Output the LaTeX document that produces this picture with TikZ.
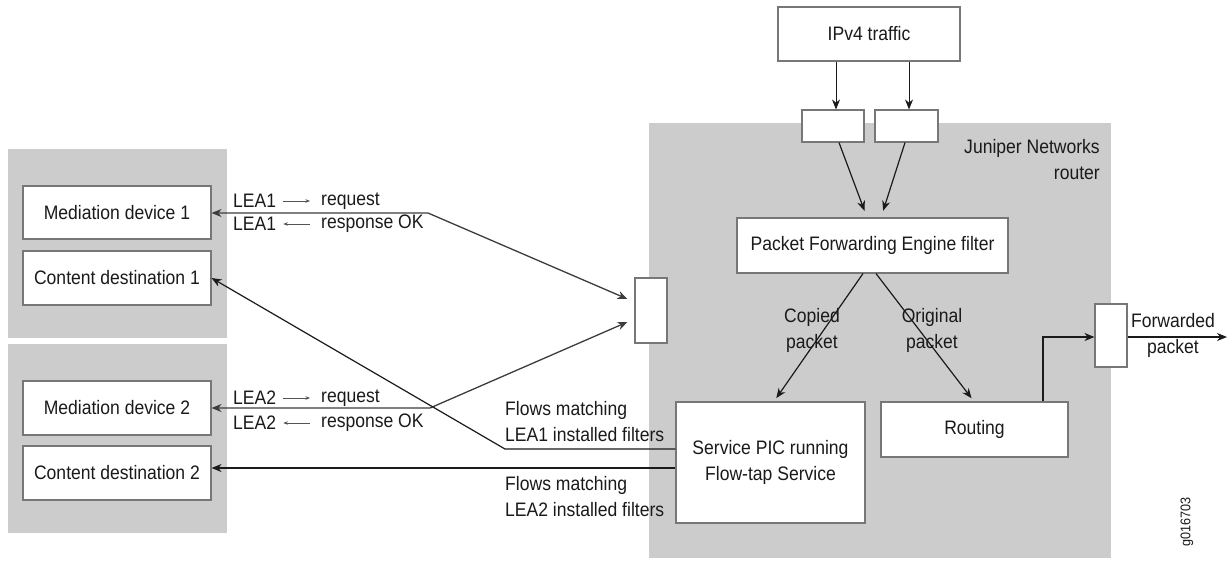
\documentclass[tikz,border=0pt]{standalone}
\usepackage{fontspec}
\setmainfont[FakeStretch=0.9]{Liberation Sans}
\usetikzlibrary{arrows.meta}
\definecolor{panel}{HTML}{CCCCCC}
\definecolor{edge}{HTML}{777777}
\definecolor{ink}{HTML}{1A1A1A}
\begin{document}
\begin{tikzpicture}[x=1pt,y=-1pt,
  font=\fontsize{19.5}{26}\selectfont,
  box/.style={draw=edge, line width=1.1pt, fill=white, inner sep=0pt, text=ink, align=center},
  lbl/.style={inner sep=0pt, text=ink},
  arr/.style={draw=ink, line width=1.2pt, -{Stealth[length=10pt,width=8pt]}},
  dblarr/.style={draw=ink!85, line width=1.3pt, {Stealth[length=10pt,width=8pt]}-{Stealth[length=10pt,width=8pt]}},
  tinyarr/.style={draw=ink!75, line width=0.7pt, -{Stealth[length=4.5pt,width=3.5pt]}}
]
\useasboundingbox (0,0) rectangle (1232,560);
\fill[white] (0,0) rectangle (1232,560);
% panels
\fill[panel] (8,149) rectangle (227,338);
\fill[panel] (8,344) rectangle (227,533);
\fill[panel] (649,123) rectangle (1111,558);

% left boxes
\node[box, minimum width=188pt, minimum height=53pt] (md1) at (117,212.5) {Mediation device 1};
\node[box, minimum width=188pt, minimum height=54pt] (cd1) at (117,278) {Content destination 1};
\node[box, minimum width=188pt, minimum height=54pt] (md2) at (117,408) {Mediation device 2};
\node[box, minimum width=188pt, minimum height=54pt] (cd2) at (117,473) {Content destination 2};

% router parts
\node[box, minimum width=32pt, minimum height=65pt] (portL) at (651,310.5) {};
\node[box, minimum width=182pt, minimum height=54pt] (ipv4) at (869,34) {IPv4 traffic};
\node[box, minimum width=62pt, minimum height=32pt] (inL) at (833,126) {};
\node[box, minimum width=63pt, minimum height=32pt] (inR) at (906.5,126) {};
\node[box, minimum width=271pt, minimum height=55pt] (pfe) at (872.5,245.5) {Packet Forwarding Engine filter};
\node[box, minimum width=189pt, minimum height=121pt] (pic) at (770.5,462.5) {Service PIC running\\Flow-tap Service};
\node[box, minimum width=187pt, minimum height=55pt] (routing) at (974.5,429.5) {Routing};
\node[box, minimum width=32pt, minimum height=63pt] (portR) at (1111,335.5) {};

\node[lbl, anchor=east, align=right] (jnr) at (1100,159.5) {Juniper Networks\\router};
\node[lbl, align=center] (cp) at (812,330) {Copied\\packet};
\node[lbl, align=center] (op) at (932,330) {Original\\packet};
\node[lbl, align=center] (fp) at (1173,335.5) {Forwarded\\packet};
\node[lbl, rotate=90, font=\fontsize{14}{16}\selectfont] (gid) at (1187,522) {g016703};

\node[lbl, anchor=west, align=left] (f1) at (505,421.5) {Flows matching\\LEA1 installed filters};
\node[lbl, anchor=west, align=left] (f2) at (505,496.5) {Flows matching\\LEA2 installed filters};

% LEA texts
\node[lbl, anchor=west] (a1) at (233,201) {LEA1};
\node[lbl, anchor=west] (b1) at (321,201) {request};
\node[lbl, anchor=west] (a2) at (233,224) {LEA1};
\node[lbl, anchor=west] (b2) at (321,224) {response OK};
\node[lbl, anchor=west] (a3) at (233,398) {LEA2};
\node[lbl, anchor=west] (b3) at (321,398) {request};
\node[lbl, anchor=west] (a4) at (233,423) {LEA2};
\node[lbl, anchor=west] (b4) at (321,423) {response OK};
\draw[tinyarr, shorten <=7pt, shorten >=11pt] (a1.east) -- (b1.west);
\draw[tinyarr, shorten <=11pt, shorten >=7pt] (b2.west) -- (a2.east);
\draw[tinyarr, shorten <=7pt, shorten >=11pt] (a3.east) -- (b3.west);
\draw[tinyarr, shorten <=11pt, shorten >=7pt] (b4.west) -- (a4.east);

% connectors
\coordinate (j1) at (428,213);
\coordinate (j2) at (430,408);
\coordinate (j3) at (505,449);
\coordinate (fwd) at (1227,335.5);
\draw[dblarr] (md1.east |- j1) -- (j1) -- ([xshift=-7pt,yshift=11.5pt]portL.west);
\draw[dblarr] (md2.east |- j2) -- (j2) -- ([xshift=-7pt,yshift=-11.5pt]portL.west);
\draw[arr] ([yshift=13.5pt]pic.west) -- (j3) -- (cd1.east);
\draw[arr] ([yshift=-5.5pt]pic.west) -- ([yshift=-5.5pt]pic.west -| cd2.east);

\draw[arr, line width=0.9pt] ([xshift=3pt]inL.north |- ipv4.south) -- ([xshift=3pt]inL.north);
\draw[arr, line width=0.9pt] ([xshift=2.5pt]inR.north |- ipv4.south) -- ([xshift=2.5pt]inR.north);
\draw[arr, shorten >=7pt] ([xshift=6pt]inL.south) -- ([xshift=-5.5pt]pfe.north);
\draw[arr, shorten >=7pt] ([xshift=-1.5pt]inR.south) -- ([xshift=8.5pt]pfe.north);
\draw[arr, shorten >=4pt] ([xshift=-9.5pt]pfe.south) -- ([xshift=3.5pt]pic.north);
\draw[arr, shorten >=4pt] ([xshift=3.5pt]pfe.south) -- ([xshift=-0.5pt]routing.north);
\draw[arr] ([xshift=68.5pt]routing.north) |- ([yshift=-1.5pt]portR.west);
\draw[arr] ([yshift=-1.5pt]portR.east) -- ([yshift=-1.5pt]fwd);
\end{tikzpicture}
\end{document}
